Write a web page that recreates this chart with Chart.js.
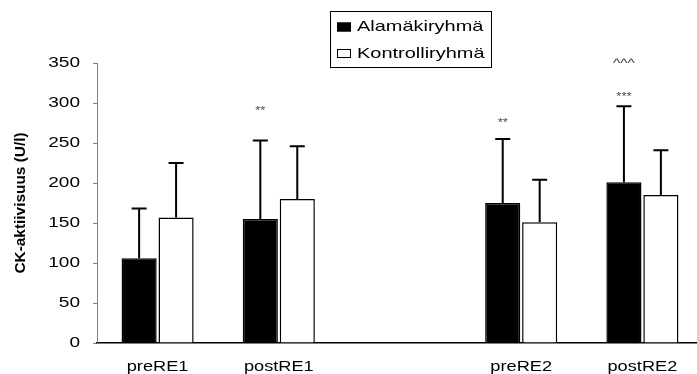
<!DOCTYPE html>
<html>
<head>
<meta charset="utf-8">
<script src="https://cdn.jsdelivr.net/npm/chart.js@4.4.1/dist/chart.umd.min.js"></script>
<style>
  html, body { margin: 0; padding: 0; background: #fff; overflow: hidden; }
  #wrap { width: 697px; height: 374px; overflow: hidden; position: relative; }
  canvas { display: block; }
</style>
</head>
<body>
<div id="wrap"><canvas id="ckChart" width="710" height="374"></canvas></div>
<script>
// CK activity (U/l), mean and SD per measurement point; empty slot separates the two RE sessions
const categories = ['preRE1', 'postRE1', '', 'preRE2', 'postRE2'];
const seriesNames = ['Alamäkiryhmä', 'Kontrolliryhmä'];
const downhillMean = [106, 155, null, 175, 201];
const downhillSd = [62, 98, null, 80, 95];
const controlMean = [157, 180, null, 151, 185];
const controlSd = [68, 66, null, 53, 56];
const yTicks = [0, 50, 100, 150, 200, 250, 300, 350];
const yTitle = 'CK-aktiivisuus (U/l)';

// significance marks over the downhill bars (lift = px above the error cap)
const sigMarks = [
  { cat: 1, text: '**', lift: 33, size: 10 },
  { cat: 3, text: '**', lift: 19, size: 10 },
  { cat: 4, text: '***', lift: 12, size: 10 },
  { cat: 4, text: '^^^', lift: 46, size: 12 }
];

const FONT = '"Liberation Sans", Arial, sans-serif';

// old spreadsheet charts render text wide; draw it scaled along its reading direction
function wideText(ctx, text, x, y, font, sx, align) {
  ctx.save();
  ctx.font = font;
  ctx.textBaseline = 'alphabetic';
  const m = ctx.measureText(text);
  const w = m.width * sx;
  const left = align === 'right' ? x - w : align === 'center' ? x - w / 2 : x;
  // center the ink vertically on y
  const mid = (m.actualBoundingBoxAscent - m.actualBoundingBoxDescent) / 2;
  ctx.translate(left, y + mid);
  ctx.scale(sx, 1);
  ctx.textAlign = 'left';
  ctx.fillStyle = '#000';
  ctx.fillText(text, 0, 0);
  ctx.restore();
}

const errorBars = {
  id: 'errorBars',
  afterDatasetsDraw(chart) {
    const { ctx } = chart;
    const y = chart.scales.y;
    const sds = [downhillSd, controlSd];
    ctx.save();
    ctx.strokeStyle = '#000';
    ctx.lineWidth = 2;
    chart.data.datasets.forEach((ds, i) => {
      chart.getDatasetMeta(i).data.forEach((bar, j) => {
        const v = ds.data[j];
        if (v == null) return;
        const top = y.getPixelForValue(v + sds[i][j]);
        ctx.beginPath();
        ctx.moveTo(bar.x, bar.y);
        ctx.lineTo(bar.x, top);
        ctx.moveTo(bar.x - 7.5, top);
        ctx.lineTo(bar.x + 7.5, top);
        ctx.stroke();
      });
    });
    ctx.restore();
  }
};

const textLayer = {
  id: 'textLayer',
  afterDraw(chart) {
    const { ctx } = chart;
    const xs = chart.scales.x, ys = chart.scales.y;

    yTicks.forEach(v => wideText(ctx, String(v), 80, ys.getPixelForValue(v) - 1, '14px ' + FONT, 1.36, 'right'));
    categories.forEach((c, i) => { if (c) wideText(ctx, c, xs.getPixelForValue(i), 367, '14px ' + FONT, 1.3, 'center'); });

    ctx.save();
    ctx.translate(21, 203);
    ctx.rotate(-Math.PI / 2);
    wideText(ctx, yTitle, 0, 0, 'bold 14px ' + FONT, 1.1, 'center');
    ctx.restore();

    // significance marks
    const meta = chart.getDatasetMeta(0);
    sigMarks.forEach(s => {
      const bar = meta.data[s.cat];
      const top = ys.getPixelForValue(downhillMean[s.cat] + downhillSd[s.cat]);
      ctx.save();
      ctx.globalAlpha = 0.75;
      wideText(ctx, s.text, bar.x, top - s.lift, s.size + 'px ' + FONT, 1.3, 'center');
      ctx.restore();
    });

    // legend box
    ctx.save();
    ctx.strokeStyle = '#000';
    ctx.lineWidth = 1;
    ctx.fillStyle = '#fff';
    ctx.fillRect(330.5, 11.5, 161, 56);
    ctx.strokeRect(330.5, 11.5, 161, 56);
    chart.data.datasets.forEach((ds, i) => {
      const cy = 27 + i * 26.5;
      ctx.fillStyle = ds.backgroundColor;
      ctx.fillRect(337, cy - 4.5, 14, 9);
      ctx.strokeRect(337.5, cy - 4, 13, 8);
      wideText(ctx, ds.label, 357, cy, '15px ' + FONT, 1.33, 'left');
    });
    ctx.restore();
  }
};

new Chart(document.getElementById('ckChart'), {
  type: 'bar',
  data: {
    labels: categories,
    datasets: [
      { label: seriesNames[0], data: downhillMean, backgroundColor: '#000', borderColor: '#000', borderWidth: 1.5 },
      { label: seriesNames[1], data: controlMean, backgroundColor: '#fff', borderColor: '#000', borderWidth: 1.5 }
    ]
  },
  options: {
    responsive: false,
    animation: false,
    devicePixelRatio: 1,
    categoryPercentage: 0.61,
    barPercentage: 0.95,
    layout: { padding: { top: 63, right: 7, left: 0, bottom: 0 } },
    plugins: { legend: { display: false }, tooltip: { enabled: false } },
    scales: {
      x: {
        type: 'category',
        offset: true,
        ticks: { display: false },
        grid: { display: false },
        border: { display: true, color: '#000', width: 1.5 },
        afterFit(s) { s.height = 31; }
      },
      y: {
        min: 0,
        max: 350,
        ticks: { display: false, stepSize: 50 },
        grid: { drawOnChartArea: false, drawTicks: true, tickLength: 4, color: '#808080' },
        border: { display: true, color: '#808080', width: 1 },
        afterFit(s) { s.width = 97; }
      }
    }
  },
  plugins: [errorBars, textLayer]
});
</script>
</body>
</html>
